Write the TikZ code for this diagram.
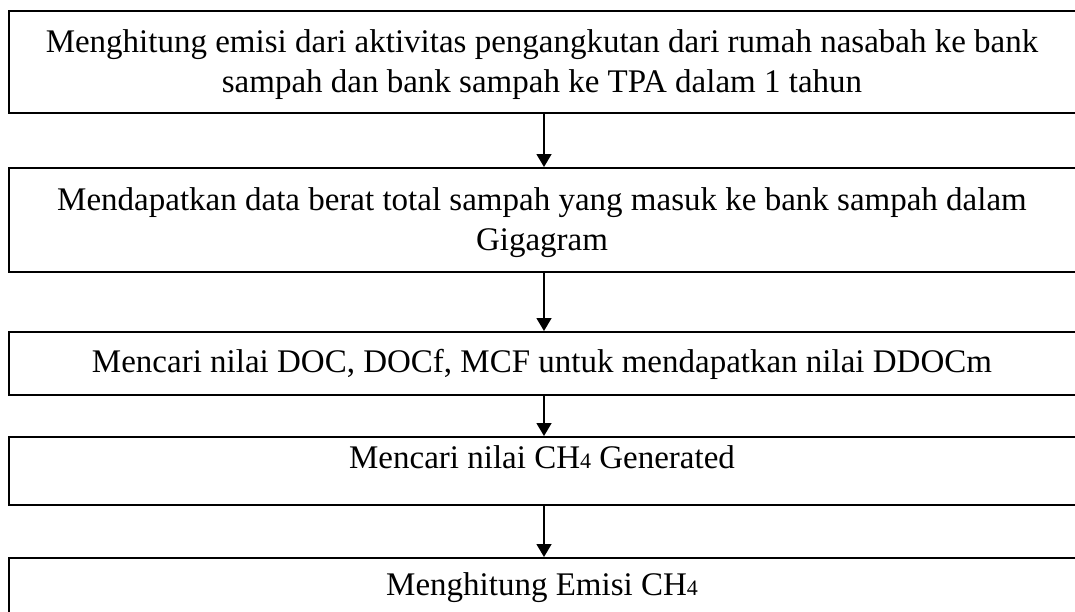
\documentclass[tikz,border=0pt]{standalone}
\usepackage{fontspec}
\setmainfont{Liberation Serif}
\usetikzlibrary{arrows.meta}
\newcommand{\subfour}{{\fontsize{22}{22}\selectfont 4}}
\begin{document}
\begin{tikzpicture}[x=1pt,y=-1pt,
 box/.style={draw=black, line width=2pt, minimum width=1070pt, inner sep=0pt},
 txt/.style={font=\fontsize{33}{40}\selectfont, align=center, inner sep=0pt, anchor=base},
 arr/.style={line width=1.5pt, -{Triangle[width=15pt,length=13pt]}}]
\useasboundingbox (0,0) rectangle (1075,611);
\node[box, minimum height=102pt] (b1) at (544,62) {};
\node[box, minimum height=104pt] (b2) at (544,220) {};
\node[box, minimum height=63pt] (b3) at (544,363.5) {};
\node[box, minimum height=68pt] (b4) at (544,471) {};
\node[box, minimum height=60pt] (b5) at (544,588) {};
% anchor=base of a multi-line node is the baseline of its last line
\node[txt] (t1) at (542,92) {Menghitung emisi dari aktivitas pengangkutan dari rumah nasabah ke bank\\sampah dan bank sampah ke TPA dalam 1 tahun};
\node[txt] (t2) at (542,250) {Mendapatkan data berat total sampah yang masuk ke bank sampah dalam\\Gigagram};
\node[txt] (t3) at (542,372) {Mencari nilai DOC, DOCf, MCF untuk mendapatkan nilai DDOCm};
\node[txt] (t4) at (542,468) {Mencari nilai CH\subfour\ Generated};
\node[txt] (t5) at (542,595) {Menghitung Emisi CH\subfour};
\draw[arr] (b1.south) -- (b2.north);
\draw[arr] (b2.south) -- (b3.north);
\draw[arr] (b3.south) -- (b4.north);
\draw[arr] (b4.south) -- (b5.north);
\end{tikzpicture}
\end{document}
